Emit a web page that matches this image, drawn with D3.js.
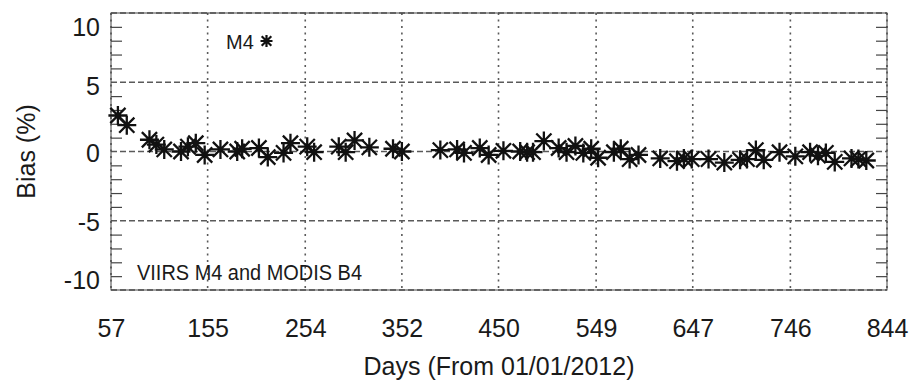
<!DOCTYPE html>
<html>
<head>
<meta charset="utf-8">
<script src="https://cdn.jsdelivr.net/npm/d3@7"></script>
<style>
  body { margin: 0; background: #fff; }
  svg { display: block; font-family: "Liberation Sans", Arial, Helvetica, sans-serif; }
</style>
</head>
<body>
<div id="chart"></div>
<script>
// days since 01/01/2012 and bias (%)
const days = [64, 73, 96, 103, 111, 128, 135, 143, 152, 168, 185, 190, 207, 216, 232,
  239, 256, 263, 288, 295, 304, 319, 343, 352, 391, 408, 415, 431, 440, 455,
  472, 479, 485, 496, 511, 519, 528, 536, 544, 551, 567, 574, 583, 592, 614,
  631, 638, 646, 663, 679, 695, 702, 711, 719, 735, 751, 766, 774, 782, 791,
  808, 815, 823];
const bias = [2.6, 1.9, 0.85, 0.5, 0.15, 0.0, 0.35, 0.6, -0.25, 0.15, 0.0, 0.2, 0.25, -0.4, -0.1,
  0.6, 0.35, -0.05, 0.35, -0.05, 0.8, 0.3, 0.2, 0.0, 0.1, 0.15, -0.1, 0.25, -0.25, 0.05,
  0.0, -0.05, -0.05, 0.75, 0.25, -0.05, 0.4, -0.1, 0.2, -0.45, -0.05, 0.2, -0.55, -0.25, -0.5,
  -0.7, -0.5, -0.55, -0.55, -0.8, -0.6, -0.55, 0.1, -0.6, -0.05, -0.35, -0.05, -0.3, -0.1, -0.75,
  -0.5, -0.55, -0.65];

const xTickLabels = [57, 155, 254, 352, 450, 549, 647, 746, 844];
const yTickLabels = [-10, -5, 0, 5, 10];
const yMinorTicks = [-9, -8, -7, -6, -4, -3, -2, -1, 1, 2, 3, 4, 6, 7, 8, 9];

const seriesName = 'M4';
const note = 'VIIRS M4 and MODIS B4';
const xTitle = 'Days (From 01/01/2012)';
const yTitle = 'Bias (%)';

const W = 912, H = 380;
const margin = { top: 13, right: 25, bottom: 90, left: 111 };
const width = W - margin.left - margin.right;
const height = H - margin.top - margin.bottom;

const svg = d3.select('#chart').append('svg')
  .attr('width', W)
  .attr('height', H);

const g = svg.append('g')
  .attr('transform', `translate(${margin.left},${margin.top})`);

const x = d3.scaleLinear().domain([57, 844]).range([0, width]);
const y = d3.scaleLinear().domain([-10, 10]).range([height, 0]);

// asterisk marker, 8 arms
const star = r => {
  const p = d3.path();
  const d = r * 0.8;
  p.moveTo(-r, 0); p.lineTo(r, 0);
  p.moveTo(0, -r); p.lineTo(0, r);
  p.moveTo(-d, -d); p.lineTo(d, d);
  p.moveTo(-d, d); p.lineTo(d, -d);
  return p.toString();
};

// grid
g.append('g')
  .selectAll('line')
  .data(yTickLabels)
  .join('line')
  .attr('x1', 0)
  .attr('x2', width)
  .attr('y1', d => y(d))
  .attr('y2', d => y(d))
  .attr('stroke', '#5a5a5a')
  .attr('stroke-width', 1.3)
  .attr('stroke-dasharray', '6,3');

g.append('g')
  .selectAll('line')
  .data(xTickLabels)
  .join('line')
  .attr('x1', d => x(d))
  .attr('x2', d => x(d))
  .attr('y1', 0)
  .attr('y2', height)
  .attr('stroke', '#5a5a5a')
  .attr('stroke-width', 1.6)
  .attr('stroke-dasharray', '2,4.5');

// frame
g.append('rect')
  .attr('width', width)
  .attr('height', height)
  .attr('fill', 'none')
  .attr('stroke', '#444')
  .attr('stroke-width', 1);

// minor ticks on both sides
g.append('g')
  .call(d3.axisLeft(y).tickValues(yMinorTicks).tickSize(-11).tickFormat(''))
  .call(a => a.select('.domain').remove())
  .selectAll('line').attr('stroke', '#444').attr('stroke-width', 1.2);

g.append('g')
  .attr('transform', `translate(${width},0)`)
  .call(d3.axisRight(y).tickValues(yMinorTicks).tickSize(-11).tickFormat(''))
  .call(a => a.select('.domain').remove())
  .selectAll('line').attr('stroke', '#444').attr('stroke-width', 1.2);

// y axis labels (plain hyphen for negatives, end labels pulled inside)
const yLabelShift = { '-10': -2, '-5': 10, '0': 10, '5': 12, '10': 22 };
g.append('g')
  .call(d3.axisLeft(y).tickValues(yTickLabels).tickSize(0).tickPadding(11).tickFormat(d => String(d)))
  .call(a => a.select('.domain').remove())
  .selectAll('text')
  .attr('font-size', 25)
  .attr('fill', '#1a1a1a')
  .attr('font-family', '"Liberation Sans", Arial, sans-serif')
  .attr('dy', null)
  .attr('y', d => yLabelShift[String(d)]);

// x axis labels
g.append('g')
  .attr('transform', `translate(0,${height})`)
  .call(d3.axisBottom(x).tickValues(xTickLabels).tickSize(0).tickPadding(29).tickFormat(d => String(d)))
  .call(a => a.select('.domain').remove())
  .selectAll('text')
  .attr('font-size', 25)
  .attr('fill', '#1a1a1a')
  .attr('font-family', '"Liberation Sans", Arial, sans-serif');

// axis titles
svg.append('text')
  .attr('x', margin.left + width / 2)
  .attr('y', 375)
  .attr('text-anchor', 'middle')
  .attr('font-size', 25)
  .attr('fill', '#1a1a1a')
  .text(xTitle);

svg.append('text')
  .attr('transform', `translate(35,${margin.top + height / 2}) rotate(-90)`)
  .attr('text-anchor', 'middle')
  .attr('font-size', 25)
  .attr('fill', '#1a1a1a')
  .text(yTitle);

// data
g.append('g')
  .selectAll('path')
  .data(days.map((d, i) => ({ day: d, bias: bias[i] })))
  .join('path')
  .attr('transform', d => `translate(${x(d.day)},${y(d.bias)})`)
  .attr('d', star(9.5))
  .attr('fill', 'none')
  .attr('stroke', '#111')
  .attr('stroke-width', 2.3);

// legend
svg.append('text')
  .attr('x', 226)
  .attr('y', 49)
  .attr('font-size', 20)
  .attr('fill', '#1a1a1a')
  .text(seriesName);

svg.append('path')
  .attr('transform', 'translate(266.5,41)')
  .attr('d', star(6))
  .attr('fill', 'none')
  .attr('stroke', '#111')
  .attr('stroke-width', 2.2);

// note
svg.append('text')
  .attr('x', 137)
  .attr('y', 280)
  .attr('font-size', 22)
  .attr('fill', '#1a1a1a')
  .attr('textLength', 225)
  .attr('lengthAdjust', 'spacingAndGlyphs')
  .text(note);
</script>
</body>
</html>
